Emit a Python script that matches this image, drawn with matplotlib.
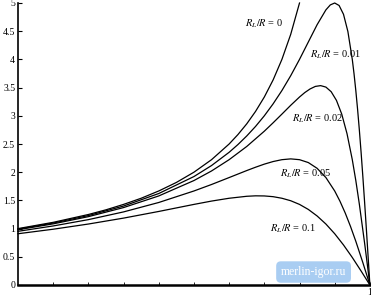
import numpy as np
import matplotlib
matplotlib.use("Agg")
import matplotlib.pyplot as plt

plt.rcParams['font.family'] = ['Liberation Serif', 'DejaVu Serif']
plt.rcParams['mathtext.fontset'] = 'stix'

# ---- curves (duty ratio D vs. conversion ratio M) ----
d_0 = [0, 0.1, 0.2, 0.25, 0.3, 0.35, 0.4, 0.45, 0.5, 0.55, 0.6, 0.625, 0.65,
       0.675, 0.7, 0.725, 0.75, 0.775, 0.8]
m_0 = [1.0, 1.111, 1.25, 1.333, 1.429, 1.538, 1.667, 1.818, 2.0, 2.222, 2.5,
       2.667, 2.857, 3.077, 3.333, 3.636, 4.0, 4.444, 5.0]

d_01 = [0, 0.1, 0.2, 0.3, 0.4, 0.5, 0.55, 0.6, 0.625, 0.65, 0.675, 0.7, 0.725,
        0.75, 0.775, 0.8, 0.825, 0.85, 0.875, 0.8875, 0.9, 0.9125, 0.925,
        0.9375, 0.95, 0.955, 0.96, 0.965, 0.97, 0.975, 0.98, 0.985, 0.99,
        0.995, 1.0]
m_01 = [0.99, 1.098, 1.231, 1.40, 1.622, 1.923, 2.118, 2.353, 2.49, 2.642,
        2.811, 3.0, 3.212, 3.448, 3.711, 4.0, 4.308, 4.615, 4.878, 4.966, 5.0,
        4.956, 4.8, 4.494, 4.0, 3.742, 3.448, 3.118, 2.752, 2.353, 1.923,
        1.467, 0.99, 0.499, 0.0]

d_02 = [0, 0.1, 0.2, 0.3, 0.4, 0.5, 0.55, 0.6, 0.65, 0.7, 0.725, 0.75, 0.775,
        0.8, 0.815, 0.83, 0.845, 0.86, 0.875, 0.89, 0.905, 0.92, 0.935, 0.95,
        0.96, 0.97, 0.985, 0.99, 1.0]
m_02 = [0.98, 1.084, 1.212, 1.373, 1.579, 1.852, 2.022, 2.222, 2.456, 2.727,
        2.876, 3.03, 3.186, 3.333, 3.412, 3.476, 3.521, 3.535, 3.509, 3.427,
        3.273, 3.03, 2.683, 2.222, 1.852, 1.435, 0.742, 0.4975, 0.0]

d_05 = [0, 0.1, 0.2, 0.3, 0.4, 0.5, 0.55, 0.6, 0.65, 0.675, 0.7, 0.725, 0.75,
        0.775, 0.8, 0.825, 0.85, 0.875, 0.9, 0.915, 0.93, 0.945, 0.96, 0.98,
        1.0]
m_05 = [0.952, 1.047, 1.159, 1.296, 1.463, 1.667, 1.782, 1.905, 2.029, 2.088,
        2.143, 2.189, 2.222, 2.236, 2.222, 2.171, 2.069, 1.905, 1.667, 1.485,
        1.275, 1.037, 0.775, 0.397, 0.0]

d_1 = [0, 0.1, 0.2, 0.3, 0.4, 0.5, 0.55, 0.6, 0.65, 0.675, 0.7, 0.725, 0.75,
       0.775, 0.8, 0.825, 0.85, 0.875, 0.9, 0.925, 0.95, 0.975, 1.0]
m_1 = [0.909, 0.989, 1.081, 1.186, 1.304, 1.429, 1.488, 1.538, 1.573, 1.581,
       1.579, 1.566, 1.538, 1.494, 1.429, 1.34, 1.224, 1.081, 0.909, 0.71,
       0.488, 0.248, 0.0]

curve_labels = [r'$R_L/R$ = 0', r'$R_L/R$ = 0.01', r'$R_L/R$ = 0.02',
                r'$R_L/R$ = 0.05', r'$R_L/R$ = 0.1']
label_x = [0.645, 0.83, 0.78, 0.745, 0.715]
label_y = [4.63, 4.08, 2.95, 1.97, 1.0]

y_ticks = [0, 0.5, 1, 1.5, 2, 2.5, 3, 3.5, 4, 4.5, 5]
y_tick_labels = ['0', '0.5', '1', '1.5', '2', '2.5', '3', '3.5', '4', '4.5', '5']

fig = plt.figure(figsize=(3.71, 3.0), dpi=100)
ax = fig.add_axes([0.0485, 0.05, 0.9485, 0.94])

for d, m in [(d_0, m_0), (d_01, m_01), (d_02, m_02), (d_05, m_05), (d_1, m_1)]:
    ax.plot(d, m, color='black', linewidth=0.9, clip_on=False)

for txt, tx, ty in zip(curve_labels, label_x, label_y):
    ax.text(tx, ty, txt, fontsize=7.5, ha='left', va='center')

ax.set_xlim(0, 1)
ax.set_ylim(0, 5)
ax.set_yticks(y_ticks)
ax.set_yticklabels(y_tick_labels)
ax.set_xticks([1])
ax.set_xticklabels(['1'])
ax.set_xticks(np.arange(0.1, 1.0, 0.1), minor=True)
ax.tick_params(axis='y', direction='in', length=3, width=0.8, labelsize=7, pad=2)
ax.tick_params(axis='x', which='both', direction='in', length=2, width=0.6,
               labelsize=7, pad=2)

for side in ['top', 'right']:
    ax.spines[side].set_visible(False)
ax.spines['left'].set_linewidth(1.2)
ax.spines['bottom'].set_linewidth(1.8)

# watermark box
ax.text(0.84, 0.23, 'merlin-igor.ru', fontsize=8.5, color='white', ha='center',
        va='center',
        bbox=dict(boxstyle='round,pad=0.4', facecolor='#a9cdf2', edgecolor='none'))

fig.savefig('out.png', dpi=100)
